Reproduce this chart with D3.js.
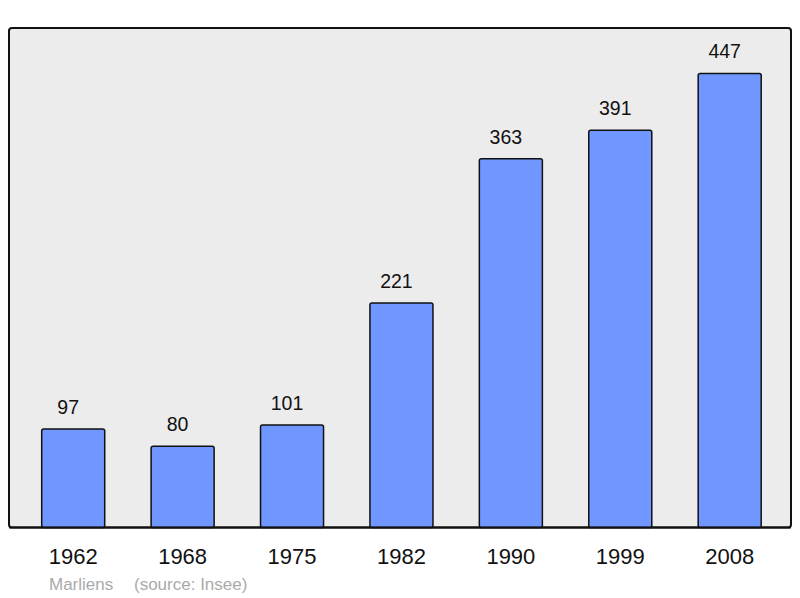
<!DOCTYPE html>
<html>
<head>
<meta charset="utf-8">
<script src="https://cdn.jsdelivr.net/npm/d3@7"></script>
<style>
  body { margin: 0; background: #fff; }
  text { font-family: "Liberation Sans", Arial, sans-serif; }
</style>
</head>
<body>
<div id="chart"></div>
<script>
const years = ['1962', '1968', '1975', '1982', '1990', '1999', '2008'];
const population = [97, 80, 101, 221, 363, 391, 447];
const commune = 'Marliens';
const source = '(source: Insee)';

const width = 800;
const height = 598;

const frame = { left: 9, top: 28, right: 791, bottom: 527.5 };

const svg = d3.select('#chart')
    .append('svg')
    .attr('width', width)
    .attr('height', height);

// plot background
svg.append('rect')
    .attr('x', frame.left)
    .attr('y', frame.top)
    .attr('width', frame.right - frame.left)
    .attr('height', frame.bottom - frame.top)
    .attr('rx', 3)
    .attr('fill', '#ececec')
    .attr('stroke', '#111')
    .attr('stroke-width', 2);

const x = d3.scaleBand()
    .domain(years)
    .range([18.5, 784.4])
    .paddingInner(0.424)
    .paddingOuter(0.212);

const y = d3.scaleLinear()
    .domain([0, d3.max(population) * 1.1])
    .range([frame.bottom, frame.top]);

const data = years.map((year, i) => ({ year, value: population[i] }));

svg.append('g')
    .selectAll('rect')
    .data(data)
    .join('rect')
    .attr('x', d => x(d.year))
    .attr('y', d => y(d.value))
    .attr('width', x.bandwidth())
    .attr('height', d => y(0) - y(d.value))
    .attr('rx', 2)
    .attr('fill', '#7097ff')
    .attr('stroke', '#111')
    .attr('stroke-width', 1.5);

// value labels (sit a little left of the bar centre, like the original)
svg.append('g')
    .selectAll('text')
    .data(data)
    .join('text')
    .attr('x', d => x(d.year) + x.bandwidth() / 2 - 5)
    .attr('y', d => y(d.value) - 15)
    .attr('text-anchor', 'middle')
    .attr('font-size', 19.5)
    .attr('fill', '#111')
    .text(d => d.value);

// redraw frame bottom line above the bars
svg.append('line')
    .attr('x1', frame.left)
    .attr('x2', frame.right)
    .attr('y1', frame.bottom)
    .attr('y2', frame.bottom)
    .attr('stroke', '#111')
    .attr('stroke-width', 2);

// year labels
const xAxis = d3.axisBottom(x).tickSize(0).tickPadding(0);
const axisG = svg.append('g')
    .attr('transform', `translate(0,${frame.bottom})`)
    .call(xAxis);
axisG.select('.domain').remove();
axisG.selectAll('text')
    .attr('dy', null)
    .attr('y', 36.5)
    .attr('font-size', 22)
    .attr('font-family', '"Liberation Sans", Arial, sans-serif')
    .attr('fill', '#111');

// footer
svg.append('text')
    .attr('x', 49)
    .attr('y', 590)
    .attr('font-size', 17)
    .attr('fill', '#aaa')
    .text(commune);

svg.append('text')
    .attr('x', 134)
    .attr('y', 590)
    .attr('font-size', 17)
    .attr('fill', '#aaa')
    .text(source);
</script>
</body>
</html>
